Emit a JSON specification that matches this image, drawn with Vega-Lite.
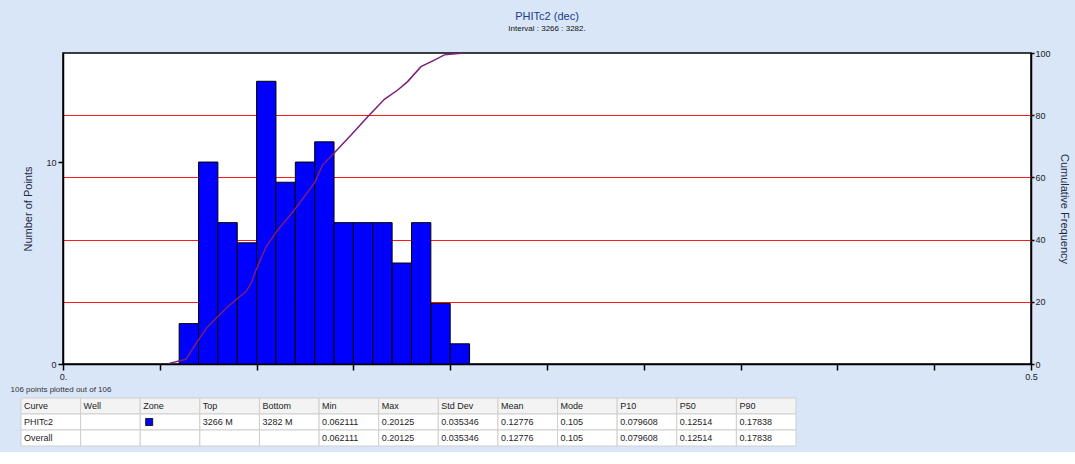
{
  "$schema": "https://vega.github.io/schema/vega-lite/v6.json",
  "background": "#d8e6f8",
  "padding": {"left": 10, "top": 10, "right": 5, "bottom": 5},
  "config": {"font": "Liberation Sans", "concat": {"spacing": 3}},
  "datasets": {
    "bins": [
      {"bin_start": 0.06, "bin_end": 0.07, "count": 2},
      {"bin_start": 0.07, "bin_end": 0.08, "count": 10},
      {"bin_start": 0.08, "bin_end": 0.09, "count": 7},
      {"bin_start": 0.09, "bin_end": 0.10, "count": 6},
      {"bin_start": 0.10, "bin_end": 0.11, "count": 14},
      {"bin_start": 0.11, "bin_end": 0.12, "count": 9},
      {"bin_start": 0.12, "bin_end": 0.13, "count": 10},
      {"bin_start": 0.13, "bin_end": 0.14, "count": 11},
      {"bin_start": 0.14, "bin_end": 0.15, "count": 7},
      {"bin_start": 0.15, "bin_end": 0.16, "count": 7},
      {"bin_start": 0.16, "bin_end": 0.17, "count": 7},
      {"bin_start": 0.17, "bin_end": 0.18, "count": 5},
      {"bin_start": 0.18, "bin_end": 0.19, "count": 7},
      {"bin_start": 0.19, "bin_end": 0.20, "count": 3},
      {"bin_start": 0.20, "bin_end": 0.21, "count": 1}
    ],
    "cum": [
      {"value": 0.0549, "cum": 0.2},
      {"value": 0.0635, "cum": 1.5},
      {"value": 0.0687, "cum": 6.6},
      {"value": 0.0747, "cum": 12.0},
      {"value": 0.0799, "cum": 15.2},
      {"value": 0.0851, "cum": 18.4},
      {"value": 0.0902, "cum": 21.1},
      {"value": 0.0945, "cum": 23.3},
      {"value": 0.0971, "cum": 25.9},
      {"value": 0.0997, "cum": 30.2},
      {"value": 0.1049, "cum": 37.7},
      {"value": 0.1109, "cum": 43.1},
      {"value": 0.1195, "cum": 49.5},
      {"value": 0.1246, "cum": 53.8},
      {"value": 0.1298, "cum": 58.1},
      {"value": 0.1341, "cum": 64.0},
      {"value": 0.1398, "cum": 67.7},
      {"value": 0.1488, "cum": 73.6},
      {"value": 0.1574, "cum": 79.5},
      {"value": 0.1660, "cum": 85.1},
      {"value": 0.1729, "cum": 88.1},
      {"value": 0.1780, "cum": 90.8},
      {"value": 0.1849, "cum": 95.6},
      {"value": 0.1918, "cum": 97.7},
      {"value": 0.1970, "cum": 99.4},
      {"value": 0.2056, "cum": 99.9}
    ],
    "table": [
      {"row": "Header", "col": "Curve", "text": "Curve"},
      {"row": "Header", "col": "Well", "text": "Well"},
      {"row": "Header", "col": "Zone", "text": "Zone"},
      {"row": "Header", "col": "Top", "text": "Top"},
      {"row": "Header", "col": "Bottom", "text": "Bottom"},
      {"row": "Header", "col": "Min", "text": "Min"},
      {"row": "Header", "col": "Max", "text": "Max"},
      {"row": "Header", "col": "Std Dev", "text": "Std Dev"},
      {"row": "Header", "col": "Mean", "text": "Mean"},
      {"row": "Header", "col": "Mode", "text": "Mode"},
      {"row": "Header", "col": "P10", "text": "P10"},
      {"row": "Header", "col": "P50", "text": "P50"},
      {"row": "Header", "col": "P90", "text": "P90"},
      {"row": "PHITc2", "col": "Curve", "text": "PHITc2"},
      {"row": "PHITc2", "col": "Well", "text": ""},
      {"row": "PHITc2", "col": "Zone", "text": ""},
      {"row": "PHITc2", "col": "Top", "text": "3266 M"},
      {"row": "PHITc2", "col": "Bottom", "text": "3282 M"},
      {"row": "PHITc2", "col": "Min", "text": "0.062111"},
      {"row": "PHITc2", "col": "Max", "text": "0.20125"},
      {"row": "PHITc2", "col": "Std Dev", "text": "0.035346"},
      {"row": "PHITc2", "col": "Mean", "text": "0.12776"},
      {"row": "PHITc2", "col": "Mode", "text": "0.105"},
      {"row": "PHITc2", "col": "P10", "text": "0.079608"},
      {"row": "PHITc2", "col": "P50", "text": "0.12514"},
      {"row": "PHITc2", "col": "P90", "text": "0.17838"},
      {"row": "Overall", "col": "Curve", "text": "Overall"},
      {"row": "Overall", "col": "Well", "text": ""},
      {"row": "Overall", "col": "Zone", "text": ""},
      {"row": "Overall", "col": "Top", "text": ""},
      {"row": "Overall", "col": "Bottom", "text": ""},
      {"row": "Overall", "col": "Min", "text": "0.062111"},
      {"row": "Overall", "col": "Max", "text": "0.20125"},
      {"row": "Overall", "col": "Std Dev", "text": "0.035346"},
      {"row": "Overall", "col": "Mean", "text": "0.12776"},
      {"row": "Overall", "col": "Mode", "text": "0.105"},
      {"row": "Overall", "col": "P10", "text": "0.079608"},
      {"row": "Overall", "col": "P50", "text": "0.12514"},
      {"row": "Overall", "col": "P90", "text": "0.17838"}
    ]
  },
  "vconcat": [
    {
      "width": 968,
      "height": 311,
      "title": {
        "text": "PHITc2 (dec)",
        "subtitle": "Interval : 3266 : 3282.",
        "fontSize": 11,
        "fontWeight": "normal",
        "color": "#1a3c8a",
        "subtitleFontSize": 8,
        "subtitleColor": "#111111",
        "subtitlePadding": 3,
        "offset": 16,
        "anchor": "middle"
      },
      "view": {"fill": "white", "stroke": "black", "strokeWidth": 1.5},
      "layer": [
        {
          "data": {"name": "bins"},
          "mark": {"type": "rect", "color": "#0000ff", "stroke": "#000000", "strokeWidth": 1},
          "encoding": {
            "x": {
              "field": "bin_start",
              "type": "quantitative",
              "title": null,
              "scale": {"domain": [0, 0.5], "nice": false},
              "axis": {
                "values": [0, 0.05, 0.1, 0.15, 0.2, 0.25, 0.3, 0.35, 0.4, 0.45, 0.5],
                "labelExpr": "datum.value == 0 ? '0.' : (datum.value == 0.5 ? '0.5' : '')",
                "grid": false,
                "domainColor": "#000000",
                "domainWidth": 1.5,
                "tickColor": "#000000",
                "tickSize": 6,
                "tickWidth": 1.5,
                "labelFontSize": 9,
                "labelColor": "#222222",
                "labelPadding": 2,
                "labelFlush": false
              }
            },
            "x2": {"field": "bin_end"},
            "y": {
              "field": "count",
              "type": "quantitative",
              "title": "Number of Points",
              "scale": {"domain": [0, 15.4], "nice": false},
              "axis": {
                "values": [0, 10],
                "grid": false,
                "labelFlush": false,
                "domainColor": "#000000",
                "domainWidth": 1.5,
                "tickColor": "#000000",
                "tickSize": 5,
                "tickWidth": 1.5,
                "labelFontSize": 9,
                "labelColor": "#222222",
                "labelPadding": 2,
                "titleFontSize": 11,
                "titleFontWeight": "normal",
                "titleColor": "#1f2a44",
                "titlePadding": 12
              }
            },
            "y2": {"datum": 0}
          }
        },
        {
          "data": {"name": "cum"},
          "mark": {"type": "line", "color": "#7b1d7b", "strokeWidth": 1.5},
          "encoding": {
            "x": {"field": "value", "type": "quantitative", "title": null},
            "y": {
              "field": "cum",
              "type": "quantitative",
              "title": "Cumulative Frequency",
              "scale": {"domain": [0, 100], "nice": false},
              "axis": {
                "orient": "right",
                "values": [0, 20, 40, 60, 80, 100],
                "labelFlush": false,
                "grid": true,
                "gridColor": {"condition": {"test": "datum.value == 0 || datum.value == 100", "value": "transparent"}, "value": "#ff1a1a"},
                "gridWidth": 1,
                "gridOpacity": 1,
                "domainColor": "#000000",
                "domainWidth": 1.5,
                "tickColor": "#000000",
                "tickSize": 3,
                "tickWidth": 1.5,
                "labelFontSize": 9,
                "labelColor": "#222222",
                "labelPadding": 1,
                "titleFontSize": 11,
                "titleFontWeight": "normal",
                "titleColor": "#1f2a44",
                "titlePadding": 8
              }
            }
          }
        }
      ],
      "resolve": {"scale": {"y": "independent"}}
    },
    {
      "width": 775,
      "height": 48,
      "title": {
        "text": "106 points plotted out of 106",
        "fontSize": 8,
        "fontWeight": "normal",
        "color": "#333333",
        "anchor": "start",
        "offset": 4,
        "dx": -10
      },
      "data": {"name": "table"},
      "view": {"fill": null, "stroke": null},
      "encoding": {
        "x": {
          "field": "col",
          "type": "nominal",
          "sort": ["Curve", "Well", "Zone", "Top", "Bottom", "Min", "Max", "Std Dev", "Mean", "Mode", "P10", "P50", "P90"],
          "scale": {"paddingInner": 0, "paddingOuter": 0, "range": [-42, 733]},
          "axis": null
        },
        "y": {
          "field": "row",
          "type": "nominal",
          "sort": ["Header", "PHITc2", "Overall"],
          "scale": {"paddingInner": 0, "paddingOuter": 0},
          "axis": null
        }
      },
      "layer": [
        {
          "mark": {"type": "rect", "stroke": "#cfcfcf", "strokeWidth": 1},
          "encoding": {
            "fill": {"condition": {"test": "datum.row == 'Header'", "value": "#f3f3f3"}, "value": "#ffffff"}
          }
        },
        {
          "mark": {"type": "text", "align": "left", "dx": 3, "fontSize": 9, "color": "#222222"},
          "encoding": {
            "x": {
              "field": "col",
              "type": "nominal",
              "sort": ["Curve", "Well", "Zone", "Top", "Bottom", "Min", "Max", "Std Dev", "Mean", "Mode", "P10", "P50", "P90"],
              "bandPosition": 0
            },
            "text": {"field": "text"}
          }
        },
        {
          "transform": [{"filter": "datum.row == 'PHITc2' && datum.col == 'Zone'"}],
          "mark": {"type": "square", "filled": true, "color": "#0000ff", "stroke": "#000000", "strokeWidth": 0.8, "size": 50, "opacity": 1},
          "encoding": {
            "x": {
              "field": "col",
              "type": "nominal",
              "sort": ["Curve", "Well", "Zone", "Top", "Bottom", "Min", "Max", "Std Dev", "Mean", "Mode", "P10", "P50", "P90"],
              "bandPosition": 0.15
            }
          }
        }
      ]
    }
  ]
}
